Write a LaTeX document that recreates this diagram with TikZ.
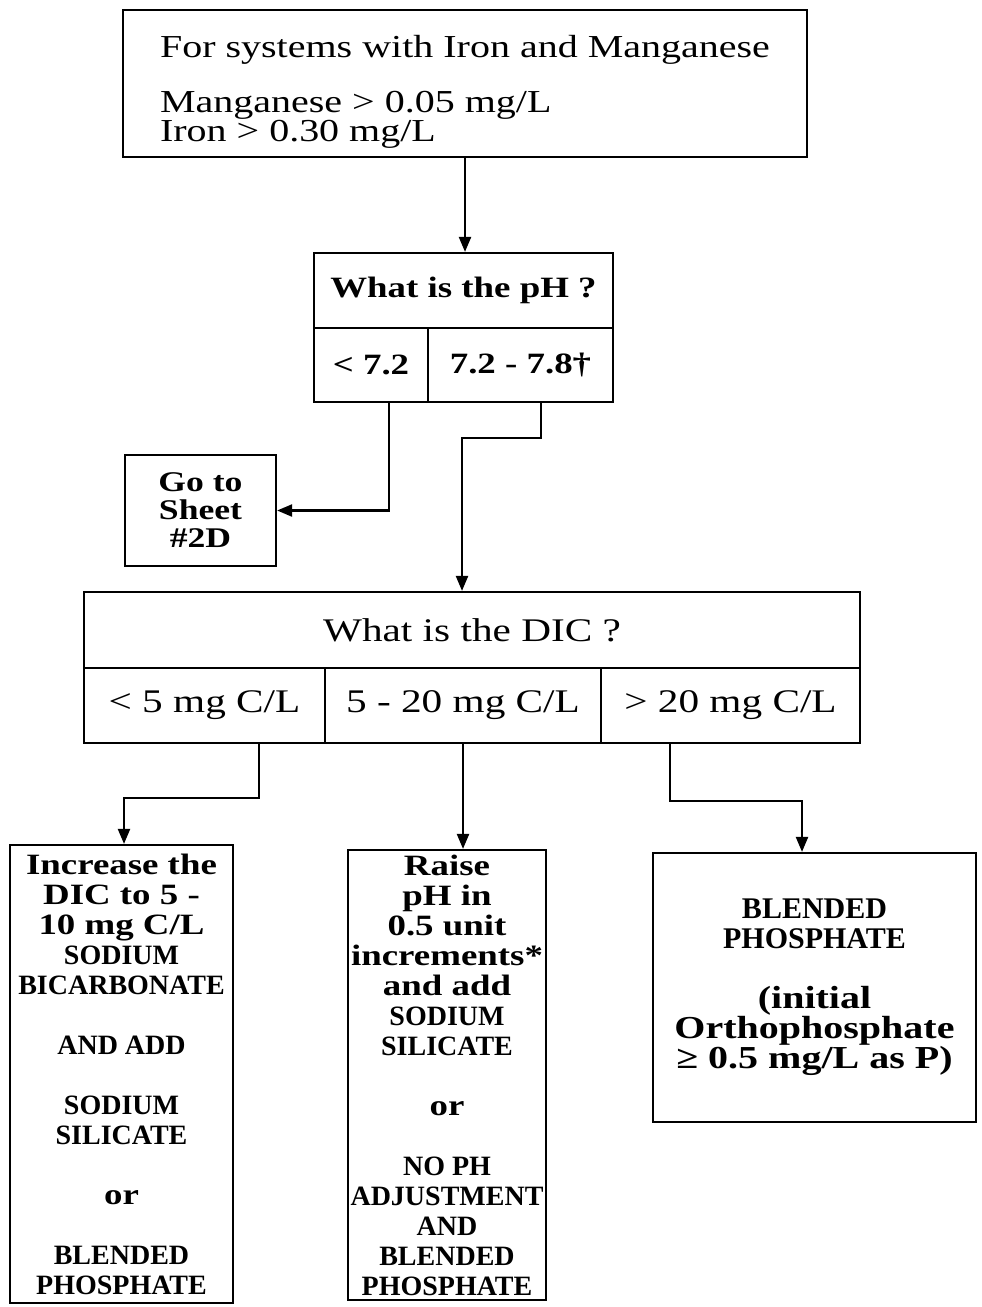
\documentclass[tikz,border=0pt]{standalone}
\usepackage{fontspec}
\setmainfont{Liberation Serif}[FakeStretch=1.25]
\newfontfamily\capsfont{Liberation Serif}
\usetikzlibrary{arrows.meta,calc}
% upper-case words are set narrower than the running text
\newcommand\cpw[1]{{\capsfont\fontsize{28}{30}\selectfont #1}}
\begin{document}
\begin{tikzpicture}[x=1pt,y=-1pt,
  box/.style={draw,line width=2.2pt,rectangle,inner sep=2pt,align=center},
  arr/.style={line width=2.2pt,-{Triangle[length=15pt,width=12pt]}},
  headfont/.style={font=\fontsize{32}{29}\selectfont},
  phfont/.style={font=\bfseries\fontsize{29.5}{30}\selectfont},
  dicfont/.style={font=\fontsize{33}{30}\selectfont},
  actfont/.style={font=\bfseries\fontsize{29.5}{30}\selectfont},
  actbig/.style={font=\bfseries\fontsize{32}{30}\selectfont}]
\useasboundingbox[fill=white] (0,0) rectangle (982,1307);

% starting condition: frame and its text
\node[box,minimum width=684pt,minimum height=147pt] (top) at (465,83.5) {};
\node[headfont,align=left,inner sep=0pt] (toptxt) at (465,92)
  {For systems with Iron and Manganese\\[26pt]
   Manganese > 0.05 mg/L\\
   Iron > 0.30 mg/L};

% pH question with its two ranges
\node[box,phfont,minimum width=299pt,minimum height=75pt] (phq) at (463.5,290.5) {What is the pH ?};
\node[box,phfont,minimum width=114pt,minimum height=74pt] (phlo) at (371,365) {< 7.2};
\node[box,phfont,minimum width=185pt,minimum height=74pt] (phmid) at (520.5,365) {7.2 - 7.8†};

% referral for low pH
\node[box,font=\bfseries\fontsize{28.5}{28}\selectfont,minimum width=151pt,minimum height=111pt] (go) at (200.5,510.5) {Go to\\Sheet\\\#2D};

% DIC question with its three ranges
\node[box,dicfont,minimum width=776pt,minimum height=76pt] (dq) at (472,630) {What is the DIC ?};
\node[box,dicfont,minimum width=241pt,minimum height=75pt] (dlo) at (204.5,705.5) {< 5 mg C/L};
\node[box,dicfont,minimum width=276pt,minimum height=75pt] (dmid) at (463,705.5) {5 - 20 mg C/L};
\node[box,dicfont,minimum width=259pt,minimum height=75pt] (dhi) at (730.5,705.5) {> 20 mg C/L};

% treatment options
\node[box,actfont,minimum width=223pt,minimum height=458pt] (lb) at (121.5,1074)
  {Increase the\\DIC to 5 -\\10 mg C/L\\\cpw{SODIUM}\\\cpw{BICARBONATE}\\[30pt]
   \cpw{AND ADD}\\[30pt]\cpw{SODIUM}\\\cpw{SILICATE}\\[30pt]or\\[30pt]
   \cpw{BLENDED}\\\cpw{PHOSPHATE}};
\node[box,actfont,minimum width=198pt,minimum height=450pt] (mb) at (447,1075)
  {Raise\\pH in\\0.5 unit\\increments*\\and add\\\cpw{SODIUM}\\\cpw{SILICATE}\\[30pt]
   or\\[30pt]\cpw{NO PH}\\\cpw{ADJUSTMENT}\\\cpw{AND}\\\cpw{BLENDED}\\\cpw{PHOSPHATE}};
\node[box,actbig,minimum width=323pt,minimum height=269pt] (rb) at (814.5,987.5)
  {{\capsfont\fontsize{30}{30}\selectfont BLENDED}\\{\capsfont\fontsize{30}{30}\selectfont PHOSPHATE}\\[30pt]
   (initial\\Orthophosphate\\≥ 0.5 mg/L as P)};

% connectors
\draw[arr] (top.south) -- (top.south |- phq.north);
\draw[arr] ([xshift=18pt]phlo.south) |- (go.east);
\draw[arr] ([xshift=20.5pt]phmid.south) -- ++(0,35) -| ([xshift=-10pt]dq.north);
\draw[arr] ([xshift=54.5pt]dlo.south) -- ++(0,54) -| ([xshift=2.5pt]lb.north);
\draw[arr] (dmid.south) -- (dmid.south |- mb.north);
\draw[arr] ([xshift=-60.5pt]dhi.south) -- ++(0,57) -| ([xshift=-12.5pt]rb.north);
\end{tikzpicture}
\end{document}
